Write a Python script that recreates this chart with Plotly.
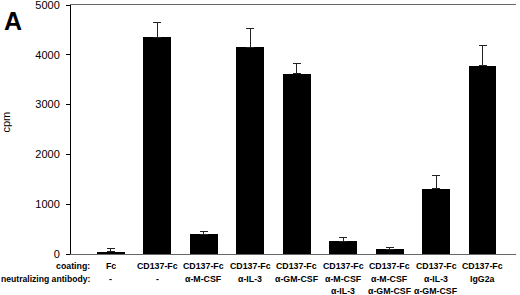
import plotly.graph_objects as go

coating = ["Fc", "CD137-Fc", "CD137-Fc", "CD137-Fc", "CD137-Fc", "CD137-Fc", "CD137-Fc", "CD137-Fc", "CD137-Fc"]
antibody1 = ["-", "-", "α-M-CSF", "α-IL-3", "α-GM-CSF", "α-M-CSF", "α-M-CSF", "α-IL-3", "IgG2a"]
antibody2 = ["", "", "", "", "", "α-IL-3", "α-GM-CSF", "α-GM-CSF", ""]
values = [50, 4350, 400, 4150, 3620, 255, 100, 1310, 3785]
errors = [60, 290, 60, 370, 210, 80, 25, 265, 400]
yticks = [0, 1000, 2000, 3000, 4000, 5000]

xs = list(range(len(values)))
FONT = "Liberation Sans, Arial, sans-serif"

fig = go.Figure()
fig.add_trace(go.Bar(
    x=xs, y=values, width=0.6,
    marker=dict(color="black", line=dict(width=0)),
    error_y=dict(type="data", array=errors, arrayminus=[0]*len(errors),
                 symmetric=False, color="#222", thickness=1, width=4),
))

annotations = []
rows = [(-0.047, coating), (-0.1, antibody1), (-0.15, antibody2)]
for yp, labels in rows:
    for x, t in zip(xs, labels):
        if t:
            annotations.append(dict(x=x, y=yp, xref="x", yref="paper", text="<b>%s</b>" % t,
                                    showarrow=False, xanchor="center", yanchor="middle",
                                    font=dict(family=FONT, size=8.8, color="black")))
annotations.append(dict(x=0.048, y=-0.047, xref="paper", yref="paper", text="<b>coating:</b>",
                        showarrow=False, xanchor="right", yanchor="middle",
                        font=dict(family=FONT, size=8.8, color="black")))
annotations.append(dict(x=0.048, y=-0.1, xref="paper", yref="paper", text="<b>neutralizing antibody:</b>",
                        showarrow=False, xanchor="right", yanchor="middle",
                        font=dict(family=FONT, size=8.6, color="black")))
annotations.append(dict(x=-0.145, y=0.53, xref="paper", yref="paper", text="cpm", textangle=-90,
                        showarrow=False, xanchor="center", yanchor="middle",
                        font=dict(family=FONT, size=11, color="black")))
annotations.append(dict(x=-0.155, y=1.0, xref="paper", yref="paper", text="<b>A</b>",
                        showarrow=False, xanchor="left", yanchor="top",
                        font=dict(family=FONT, size=25, color="black")))

fig.update_layout(
    width=520, height=295,
    margin=dict(l=71, r=4, t=5, b=41, autoexpand=False),
    plot_bgcolor="white", paper_bgcolor="white",
    showlegend=False,
    bargap=0,
    annotations=annotations,
    xaxis=dict(range=[-0.86, 8.72], showticklabels=False, ticks="", showgrid=False, automargin=False,
               zeroline=False, showline=True, linecolor="#666", linewidth=1, mirror=True),
    yaxis=dict(range=[0, 5000], tickvals=yticks, ticks="outside", ticklen=4, tickcolor="black",
               showgrid=False, zeroline=False, showline=True, linecolor="black", linewidth=1,
               automargin=False, ticklabelstandoff=4, ticklabeloverflow="allow",
               tickfont=dict(family=FONT, size=11, color="black")),
)

fig.write_html("out.html", config={"displayModeBar": False},
               post_script="document.body.style.margin='0';document.body.style.overflow='hidden';")
